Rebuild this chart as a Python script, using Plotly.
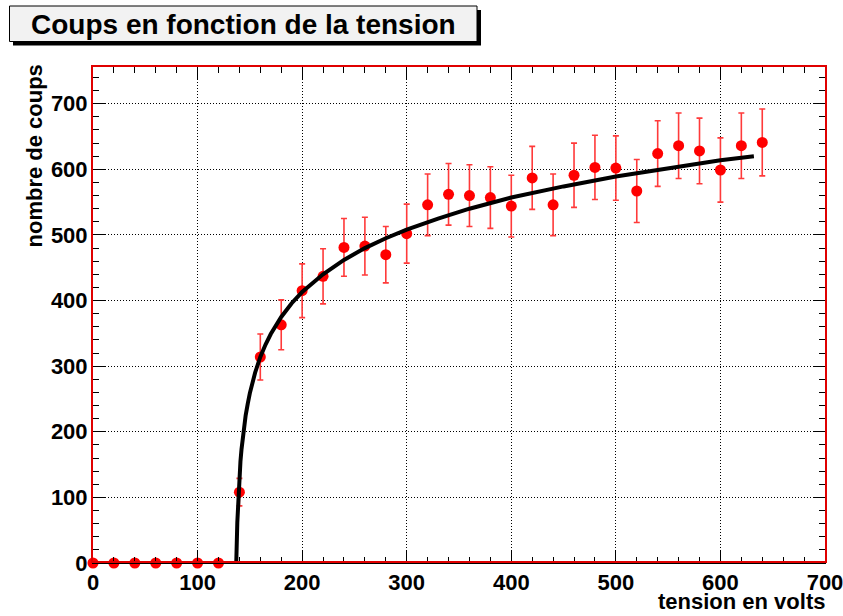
import plotly.graph_objects as go

# ---- data ----
tension = [0, 20, 40, 60, 80, 100, 120, 140, 160, 180, 200, 220, 240, 260, 280, 300,
           320, 340, 360, 380, 400, 420, 440, 460, 480, 500, 520, 540, 560, 580, 600, 620, 640]
coups = [0, 0, 0, 0, 0, 0, 0, 108, 314, 363, 415, 437, 481, 483, 470, 502,
         546, 562, 560, 557, 544, 587, 546, 591, 603, 602, 567, 624, 636, 628, 599, 636, 641]
erreurs = [0, 0, 0, 0, 0, 0, 0, 21, 35, 38, 41, 42, 44, 44, 43, 45,
           47, 47, 47, 47, 47, 48, 47, 49, 49, 49, 48, 50, 50, 50, 49, 50, 51]

# fitted curve
fit_x = [0, 136, 137, 138, 139, 140, 141, 142, 144, 146, 148, 150, 155, 160, 165, 170, 180, 190,
         200, 220, 240, 260, 280, 300, 330, 360, 400, 450, 500, 550, 600, 632]
fit_y = [0, 0, 0, 62, 103, 132, 155, 173, 202, 225, 243, 259, 290, 314, 333, 349, 375, 396,
         413, 440, 462, 480, 495, 508, 525, 540, 557, 574, 589, 602, 614, 620]

title_text = "Coups en fonction de la tension"
x_title = "tension en volts"
y_title = "nombre de coups"

# ---- layout geometry ----
W, H = 843, 616
L, R, T, B = 93, 18, 67, 53
PW, PH = W - L - R, H - T - B


def px(x):
    return (x - L) / PW


def py(y):
    return (H - B - y) / PH


FONT = "Liberation Sans"

fig = go.Figure()

fig.add_trace(go.Scatter(
    x=tension, y=coups, mode="markers",
    marker=dict(color="#ff0000", size=11, symbol="circle"),
    error_y=dict(type="data", array=erreurs, visible=True, color="#ff3a3a",
                 thickness=1.6, width=3),
    cliponaxis=False, showlegend=False,
))

fig.add_trace(go.Scatter(
    x=fit_x, y=fit_y, mode="lines",
    line=dict(color="black", width=4),
    showlegend=False, cliponaxis=False,
))

axis_common = dict(
    ticks="inside", ticklen=12, tickwidth=1, tickcolor="black",
    showline=True, linecolor="black", linewidth=1, mirror="ticks",
    showgrid=True, gridcolor="black", gridwidth=1, griddash="1px,2px",
    zeroline=False, dtick=100, tick0=0, ticklabeloverflow="allow",
    automargin=False,
    tickfont=dict(family=FONT, size=22, color="black", weight="bold"),
    minor=dict(dtick=20, ticks="inside", ticklen=6, tickcolor="black", tickwidth=1,
               showgrid=False),
)

fig.update_xaxes(range=[0, 700], **axis_common)
fig.update_yaxes(range=[0, 756], **axis_common)

shapes = [
    # red pad frame
    dict(type="rect", xref="paper", yref="paper",
         x0=px(92), x1=px(826), y0=py(562), y1=py(66),
         line=dict(color="#e00000", width=2), layer="above"),
    # title shadow
    dict(type="rect", xref="paper", yref="paper",
         x0=px(13), x1=px(481), y0=py(45.5), y1=py(10),
         fillcolor="black", line=dict(width=0), layer="above"),
    # title box
    dict(type="rect", xref="paper", yref="paper",
         x0=px(9.5), x1=px(477), y0=py(41.5), y1=py(6),
         fillcolor="#f2f2f2", line=dict(color="black", width=1), layer="above"),
]

annotations = [
    dict(text=title_text, xref="paper", yref="paper", x=px(243), y=py(24),
         xanchor="center", yanchor="middle", showarrow=False,
         font=dict(family=FONT, size=28, color="black", weight="bold")),
    dict(text=x_title, xref="paper", yref="paper", x=px(826), y=py(601),
         xanchor="right", yanchor="middle", showarrow=False, borderpad=0,
         font=dict(family=FONT, size=22, color="black", weight="bold")),
    dict(text=y_title, xref="paper", yref="paper", x=px(34), y=py(62),
         xanchor="center", yanchor="top", textangle=-90, showarrow=False,
         font=dict(family=FONT, size=22, color="black", weight="bold")),
]

fig.update_layout(
    width=W, height=H,
    margin=dict(l=L, r=R, t=T, b=B, pad=0, autoexpand=False),
    paper_bgcolor="white", plot_bgcolor="white",
    shapes=shapes, annotations=annotations,
    showlegend=False,
)

fig.write_html("out.html", config={"displayModeBar": False},
               post_script="document.body.style.margin='0';document.body.style.overflow='hidden';")
